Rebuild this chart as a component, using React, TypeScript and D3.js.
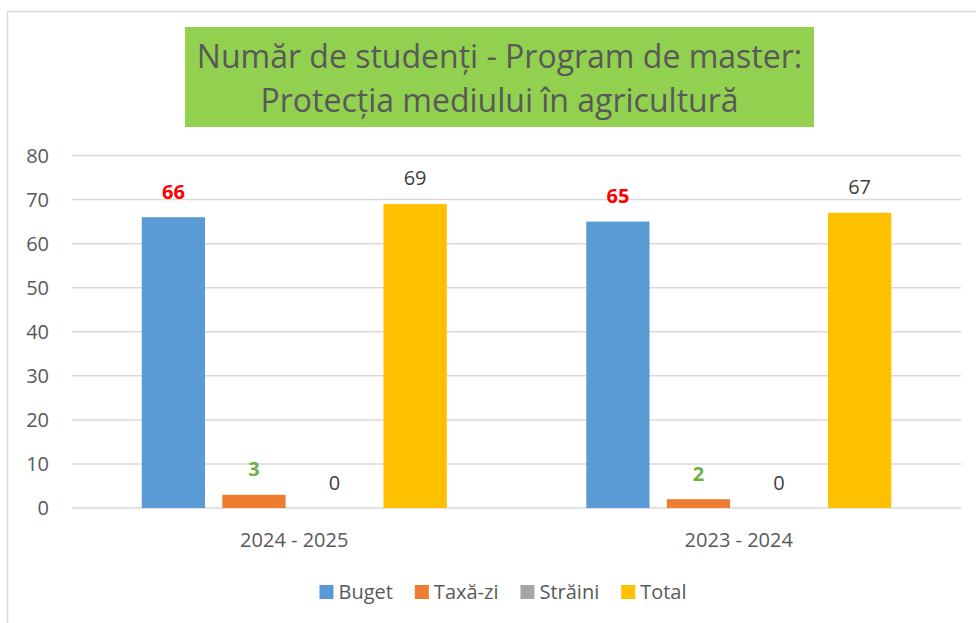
import { useEffect, useRef } from "react";
import * as d3 from "d3";

const categories = ["2024 - 2025", "2023 - 2024"];
const seriesNames = ["Buget", "Taxă-zi", "Străini", "Total"];
const buget = [66, 65];
const taxaZi = [3, 2];
const straini = [0, 0];
const total = [69, 67];
const yTicks = [0, 10, 20, 30, 40, 50, 60, 70, 80];
const titleLines = ["Număr de studenți - Program de master:", "Protecția mediului în agricultură"];

const colors = ["#5b9bd5", "#ed7d31", "#a5a5a5", "#ffc000"];
const labelColors = ["#ff0000", "#70ad47", "#404040", "#404040"];
const labelWeights = ["bold", "bold", "normal", "normal"];

const App = () => {
  const divRef = useRef<HTMLDivElement>(null);

  useEffect(() => {
    if (!divRef.current) return;
    const width = 976;
    const height = 623;
    const margin = { top: 155.5, right: 15, bottom: 115, left: 72 };
    const font = "'Open Sans', sans-serif";

    d3.select(divRef.current).selectAll("svg").remove();
    const svg = d3
      .select(divRef.current)
      .append("svg")
      .attr("width", width)
      .attr("height", height)
      .style("display", "block")
      .style("background", "#fff");

    // outer chart border (runs off the right/bottom edge)
    svg
      .append("rect")
      .attr("x", 7.5)
      .attr("y", 11.5)
      .attr("width", 1000)
      .attr("height", 700)
      .attr("fill", "none")
      .attr("stroke", "#d9d9d9")
      .attr("stroke-width", 1.5);

    // title
    svg
      .append("rect")
      .attr("x", 185)
      .attr("y", 27)
      .attr("width", 629)
      .attr("height", 100)
      .attr("fill", "#92d050");
    titleLines.forEach((t, i) => {
      svg
        .append("text")
        .attr("x", 499.5)
        .attr("y", 67.5 + i * 44)
        .attr("text-anchor", "middle")
        .attr("font-family", font)
        .attr("font-size", 32)
        .attr("fill", "#595959")
        .text(t);
    });

    const yScale = d3
      .scaleLinear()
      .domain([0, 80])
      .range([508, margin.top]);

    const x0 = d3
      .scaleBand()
      .domain(categories)
      .range([margin.left, width - margin.right])
      .padding(0);

    const x1 = d3
      .scaleBand()
      .domain(seriesNames)
      .range([-152.5, 152.5])
      .paddingInner(0.215)
      .paddingOuter(0);

    // gridlines
    svg
      .append("g")
      .selectAll("line")
      .data(yTicks)
      .join("line")
      .attr("x1", margin.left)
      .attr("x2", width - margin.right)
      .attr("y1", (d) => yScale(d))
      .attr("y2", (d) => yScale(d))
      .attr("stroke", "#d9d9d9")
      .attr("stroke-width", 1.5);

    // y labels
    svg
      .append("g")
      .selectAll("text")
      .data(yTicks)
      .join("text")
      .attr("x", 49)
      .attr("y", (d) => yScale(d) + 7)
      .attr("text-anchor", "end")
      .attr("font-family", font)
      .attr("font-size", 20)
      .attr("fill", "#595959")
      .text((d) => d);

    const values = [buget, taxaZi, straini, total];
    const rows = categories.map((c, ci) => ({
      cat: c,
      items: seriesNames.map((s, si) => ({ s, si, v: values[si][ci] })),
    }));

    const groups = svg
      .append("g")
      .selectAll("g")
      .data(rows)
      .join("g")
      .attr("transform", (d) => `translate(${x0(d.cat)! + x0.bandwidth() / 2},0)`);

    groups
      .selectAll("rect")
      .data((d) => d.items)
      .join("rect")
      .attr("x", (d) => x1(d.s)!)
      .attr("width", x1.bandwidth())
      .attr("y", (d) => yScale(d.v))
      .attr("height", (d) => yScale(0) - yScale(d.v))
      .attr("fill", (d) => colors[d.si]);

    groups
      .selectAll("text")
      .data((d) => d.items)
      .join("text")
      .attr("x", (d) => x1(d.s)! + x1.bandwidth() / 2)
      .attr("y", (d) => yScale(d.v) - 18.5)
      .attr("text-anchor", "middle")
      .attr("font-family", font)
      .attr("font-size", 20)
      .attr("font-weight", (d) => labelWeights[d.si])
      .attr("fill", (d) => labelColors[d.si])
      .text((d) => d.v);

    // category labels
    svg
      .append("g")
      .selectAll("text")
      .data(categories)
      .join("text")
      .attr("x", (d) => x0(d)! + x0.bandwidth() / 2)
      .attr("y", 547)
      .attr("text-anchor", "middle")
      .attr("font-family", font)
      .attr("font-size", 20)
      .attr("fill", "#595959")
      .text((d) => d);

    // legend
    const legend = svg.append("g");
    let cursor = 0;
    seriesNames.forEach((name, i) => {
      const item = legend.append("g").attr("transform", `translate(${cursor},0)`);
      item
        .append("rect")
        .attr("x", 0)
        .attr("y", 585)
        .attr("width", 14)
        .attr("height", 14)
        .attr("fill", colors[i]);
      const t = item
        .append("text")
        .attr("x", 19)
        .attr("y", 599)
        .attr("font-family", font)
        .attr("font-size", 20)
        .attr("fill", "#595959")
        .text(name);
      const w = (t.node() as SVGTextElement).getComputedTextLength();
      cursor += 19 + w + 22;
    });
    const legendWidth = cursor - 22;
    legend.attr("transform", `translate(${503 - legendWidth / 2},0)`);
  }, []);

  return (
    <div
      ref={divRef}
      style={{ position: "absolute", left: 0, top: 0, width: 976, height: 623 }}
    ></div>
  );
};

export default App;
